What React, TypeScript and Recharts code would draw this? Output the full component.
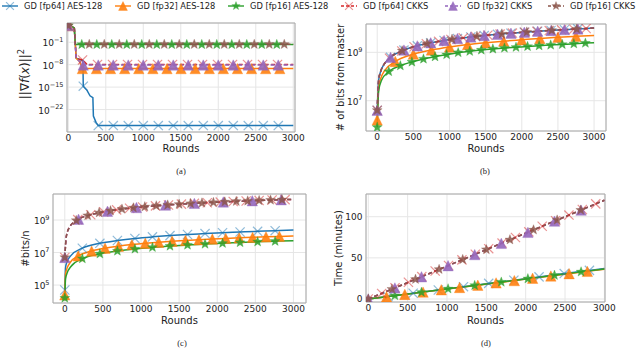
import React from 'react';
import { LineChart, Line, XAxis, YAxis, CartesianGrid, ReferenceArea } from 'recharts';

type Pt = [number, number];
type Shape = 'x' | 'tri' | 'star';

const FONT = '"DejaVu Sans", sans-serif';
const COLORS = { blue: '#1f77b4', orange: '#ff7f0e', green: '#2ca02c', red: '#d62728', purple: '#9467bd', brown: '#8c564b' };

const legendLabels = ['GD [fp64] AES-128', 'GD [fp32] AES-128', 'GD [fp16] AES-128', 'GD [fp64] CKKS', 'GD [fp32] CKKS', 'GD [fp16] CKKS'];
const roundTicks = [0, 500, 1000, 1500, 2000, 2500, 3000];

// ---------- Panel (a): ||grad f(x)||^2 ----------
const aBluePre: Pt[] = [[40, 1e4], [80, 3e3], [95, 1e-2], [105, 1e-6], [150, 4e-7], [195, 2e-7], [250, 1e-16], [290, 2e-18], [328, 5e-19], [335, 1e-24], [370, 1e-26], [3000, 1e-27]];
const aBluePts: Pt[] = [[0, 1.5e4], [200, 2e-15], [400, 1e-27], [600, 1e-27], [800, 1e-27], [1000, 1e-27], [1200, 1e-27], [1400, 1e-27], [1600, 1e-27], [1800, 1e-27], [2000, 1e-27], [2200, 1e-27], [2400, 1e-27], [2600, 1e-27], [2800, 1e-27]];
const aOrangePre: Pt[] = [[40, 1e4], [80, 3e3], [95, 1e-2], [105, 1e-6], [150, 1e-7], [3000, 6e-10]];
const aOrangePts: Pt[] = [[0, 1.5e4], [188, 6e-10], [376, 6e-10], [564, 6e-10], [752, 6e-10], [940, 6e-10], [1128, 6e-10], [1316, 6e-10], [1504, 6e-10], [1692, 6e-10], [1880, 6e-10], [2068, 6e-10], [2256, 6e-10], [2444, 6e-10], [2632, 6e-10], [2820, 6e-10]];
const aGreenPre: Pt[] = [[40, 1e4], [80, 3e3], [95, 2e-2], [3000, 2e-2]];
const aGreenPts: Pt[] = [[0, 1.5e4], [180, 2e-2], [380, 2e-2], [580, 2e-2], [780, 2e-2], [980, 2e-2], [1180, 2e-2], [1380, 2e-2], [1580, 2e-2], [1780, 2e-2], [1980, 2e-2], [2180, 2e-2], [2380, 2e-2], [2580, 2e-2], [2780, 2e-2]];
const aRedPre: Pt[] = [[40, 1e4], [80, 3e3], [95, 1e-2], [105, 1e-6], [150, 5e-7], [250, 1.2e-8], [3000, 1.2e-8]];
const aRedPts: Pt[] = [[0, 1.5e4], [190, 3e-7], [390, 1.2e-8], [590, 1.2e-8], [790, 1.2e-8], [990, 1.2e-8], [1190, 1.2e-8], [1390, 1.2e-8], [1590, 1.2e-8], [1790, 1.2e-8], [1990, 1.2e-8], [2190, 1.2e-8], [2390, 1.2e-8], [2590, 1.2e-8], [2790, 1.2e-8]];
const aPurplePre: Pt[] = [[40, 1e4], [80, 3e3], [95, 1e-2], [105, 1e-6], [150, 1e-7], [3000, 8e-9]];
const aPurplePts: Pt[] = [[0, 1.5e4], [200, 8e-9], [400, 8e-9], [600, 8e-9], [800, 8e-9], [1000, 8e-9], [1200, 8e-9], [1400, 8e-9], [1600, 8e-9], [1800, 8e-9], [2000, 8e-9], [2200, 8e-9], [2400, 8e-9], [2600, 8e-9], [2800, 8e-9]];
const aBrownPre: Pt[] = [[40, 1e4], [80, 3e3], [95, 2.2e-2], [3000, 2.2e-2]];
const aBrownPts: Pt[] = [[0, 1.5e4], [280, 2.2e-2], [480, 2.2e-2], [680, 2.2e-2], [880, 2.2e-2], [1080, 2.2e-2], [1280, 2.2e-2], [1480, 2.2e-2], [1680, 2.2e-2], [1880, 2.2e-2], [2080, 2.2e-2], [2280, 2.2e-2], [2480, 2.2e-2], [2680, 2.2e-2], [2880, 2.2e-2]];
const aYTicks = [1e-22, 1e-15, 1e-8, 1e-1];

// ---------- Panel (b): # of bits from master ----------
const bTopPre: Pt[] = [[20, 7e7], [50, 1.7e8], [90, 3e8], [3000, 1e10]];
const bTopPts: Pt[] = [[0, 4e6], [185, 6.2e8], [370, 1.24e9], [555, 1.85e9], [740, 2.47e9], [925, 3.1e9], [1110, 3.7e9], [1295, 4.3e9], [1480, 4.93e9], [1665, 5.55e9], [1850, 6.17e9], [2035, 6.78e9], [2220, 7.4e9], [2405, 8e9], [2590, 8.63e9], [2775, 9.25e9]];
const bOrangePre: Pt[] = [[20, 3.5e7], [50, 8.5e7], [100, 1.7e8], [3000, 5e9]];
const bOrangePts: Pt[] = [[0, 1.6e6], [250, 4.2e8], [500, 8.4e8], [750, 1.25e9], [1000, 1.67e9], [1250, 2.1e9], [1500, 2.5e9], [1750, 2.9e9], [2000, 3.3e9], [2250, 3.75e9], [2500, 4.2e9], [2750, 4.6e9]];
const bGreenPre: Pt[] = [[20, 2.5e7], [60, 7e7], [3000, 2.5e9]];
const bGreenPts: Pt[] = [[0, 8e5], [160, 1.6e8], [320, 2.8e8], [480, 4e8], [640, 5.3e8], [800, 6.6e8], [960, 8e8], [1120, 9.7e8], [1280, 1.1e9], [1440, 1.25e9], [1600, 1.38e9], [1760, 1.5e9], [1920, 1.62e9], [2080, 1.75e9], [2240, 1.88e9], [2400, 2e9], [2560, 2.12e9], [2720, 2.25e9], [2880, 2.4e9]];
const bRedPre: Pt[] = [[20, 7e7], [50, 1.7e8], [90, 3e8], [3000, 1e10]];
const bRedPts: Pt[] = [[0, 4e6], [170, 5.7e8], [340, 1.14e9], [510, 1.7e9], [680, 2.27e9], [850, 2.83e9], [1020, 3.4e9], [1190, 3.97e9], [1360, 4.53e9], [1530, 5.1e9], [1700, 5.67e9], [1870, 6.23e9], [2040, 6.8e9], [2210, 7.36e9], [2380, 7.93e9], [2550, 8.5e9], [2720, 9.06e9], [2890, 9.63e9]];
const bBrownPre: Pt[] = [[20, 7e7], [50, 1.7e8], [90, 3e8], [170, 5.7e8], [3000, 1e10]];
const bBrownPts: Pt[] = [[0, 4e6], [345, 1.15e9], [690, 2.3e9], [1035, 3.45e9], [1380, 4.6e9], [1725, 5.75e9], [2070, 6.9e9], [2415, 8.05e9], [2760, 9.2e9]];
const bYTicks = [1e7, 1e9];

// ---------- Panel (c): #bits/n ----------
const cBluePre: Pt[] = [[10, 1.2e6], [30, 2.8e6], [80, 6.5e6], [3000, 2.4e8]];
const cBluePts: Pt[] = [[0, 5e4], [230, 1.85e7], [460, 3.7e7], [690, 5.5e7], [920, 7.4e7], [1150, 9.2e7], [1380, 1.1e8], [1610, 1.29e8], [1840, 1.47e8], [2070, 1.66e8], [2300, 1.84e8], [2530, 2.02e8], [2760, 2.21e8]];
const cOrangePre: Pt[] = [[10, 5e5], [30, 1.1e6], [80, 2.8e6], [3000, 1.05e8]];
const cOrangePts: Pt[] = [[0, 2.5e4], [176, 6.2e6], [352, 1.23e7], [528, 1.85e7], [704, 2.46e7], [880, 3.08e7], [1056, 3.7e7], [1232, 4.3e7], [1408, 4.93e7], [1584, 5.5e7], [1760, 6.16e7], [1936, 6.8e7], [2112, 7.4e7], [2288, 8e7], [2464, 8.6e7], [2640, 9.24e7], [2816, 9.86e7]];
const cGreenPre: Pt[] = [[10, 2.5e5], [30, 5.5e5], [80, 1.4e6], [3000, 5.4e7]];
const cGreenPts: Pt[] = [[0, 1.6e4], [230, 4.2e6], [460, 8.3e6], [690, 1.24e7], [920, 1.66e7], [1150, 2.07e7], [1380, 2.5e7], [1610, 2.9e7], [1840, 3.3e7], [2070, 3.73e7], [2300, 4.14e7], [2530, 4.55e7], [2760, 4.97e7]];
const cRedPre: Pt[] = [[20, 1e8], [60, 3.5e8], [3000, 1.86e10]];
const cRedPts: Pt[] = [[0, 5e6], [170, 1.06e9], [340, 2.1e9], [510, 3.17e9], [680, 4.2e9], [850, 5.28e9], [1020, 6.33e9], [1190, 7.4e9], [1360, 8.44e9], [1530, 9.5e9], [1700, 1.055e10], [1870, 1.16e10], [2040, 1.265e10], [2210, 1.37e10], [2380, 1.48e10], [2550, 1.58e10], [2720, 1.69e10], [2890, 1.79e10]];
const cPurplePre: Pt[] = [[20, 1e8], [60, 3.5e8], [370, 2.3e9], [3000, 1.86e10]];
const cPurplePts: Pt[] = [[0, 5e6], [180, 1.12e9], [560, 3.48e9], [940, 5.83e9], [1320, 8.19e9], [1700, 1.055e10], [2080, 1.29e10], [2460, 1.53e10], [2840, 1.76e10]];
const cBrownPre: Pt[] = [[20, 1e8], [60, 3.5e8], [3000, 1.86e10]];
const cBrownPts: Pt[] = [[0, 5e6], [150, 9.4e8], [300, 1.87e9], [450, 2.8e9], [600, 3.7e9], [750, 4.66e9], [900, 5.6e9], [1050, 6.5e9], [1200, 7.45e9], [1350, 8.4e9], [1500, 9.3e9], [1650, 1.02e10], [1800, 1.12e10], [1950, 1.21e10], [2100, 1.3e10], [2250, 1.4e10], [2400, 1.49e10], [2550, 1.58e10], [2700, 1.68e10], [2850, 1.77e10]];
const cYTicks = [1e5, 1e7, 1e9];

// ---------- Panel (d): Time (minutes) ----------
const dBluePre: Pt[] = [[0, 0], [3000, 37.2]];
const dBluePts: Pt[] = [[250, 3.1], [570, 7.1], [890, 11], [1210, 15], [1530, 19], [1850, 22.9], [2170, 26.9], [2490, 30.9], [2810, 34.8]];
const dOrangePre: Pt[] = [[0, 0], [3000, 36.2]];
const dOrangePts: Pt[] = [[232, 2.8], [464, 5.6], [696, 8.4], [928, 11.2], [1160, 14], [1392, 16.8], [1624, 19.6], [1856, 22.4], [2088, 25.2], [2320, 28], [2552, 30.8], [2784, 33.6]];
const dGreenPre: Pt[] = [[0, 0], [3000, 36.6]];
const dGreenPts: Pt[] = [[338, 4.1], [676, 8.2], [1014, 12.4], [1352, 16.5], [1690, 20.6], [2028, 24.7], [2366, 28.9], [2704, 33]];
const dRedPre: Pt[] = [[3000, 120]];
const dRedPts: Pt[] = [[0, 0], [170, 6.8], [340, 13.6], [510, 20.4], [680, 27.2], [850, 34], [1020, 40.8], [1190, 47.6], [1360, 54.4], [1530, 61.2], [1700, 68], [1870, 74.8], [2040, 81.6], [2210, 88.4], [2380, 95.2], [2550, 102], [2720, 108.8], [2890, 115.6]];
const dPurplePre: Pt[] = [[3000, 120]];
const dPurplePts: Pt[] = [[0, 0], [338, 13.5], [676, 27], [1014, 40.5], [1352, 54], [1690, 67.6], [2028, 81], [2366, 94.6], [2704, 108]];
const dBrownPre: Pt[] = [[3000, 120]];
const dBrownPts: Pt[] = [[0, 0], [300, 12], [600, 24], [900, 36], [1200, 48], [1500, 60], [1800, 72], [2100, 84], [2400, 96], [2700, 108]];
const dYTicks = [0, 50, 100];

// ---------- helpers ----------
type Row = { x: number; y: number; m: boolean };
const build = (pre: Pt[], pts: Pt[]): Row[] =>
  [...pre.map(([x, y]) => ({ x, y, m: false })), ...pts.map(([x, y]) => ({ x, y, m: true }))].sort((a, b) => a.x - b.x);

const STYLE: { color: string; shape: Shape; dashed: boolean }[] = [
  { color: COLORS.blue, shape: 'x', dashed: false },
  { color: COLORS.orange, shape: 'tri', dashed: false },
  { color: COLORS.green, shape: 'star', dashed: false },
  { color: COLORS.red, shape: 'x', dashed: true },
  { color: COLORS.purple, shape: 'tri', dashed: true },
  { color: COLORS.brown, shape: 'star', dashed: true },
];

function Marker({ shape, color, x, y, s = 1 }: { shape: Shape; color: string; x: number; y: number; s?: number }) {
  if (shape === 'x') {
    const r = 4.6 * s;
    return (
      <g stroke={color} strokeWidth={1.2} strokeOpacity={0.5}>
        <line x1={x - r} y1={y - r} x2={x + r} y2={y + r} />
        <line x1={x - r} y1={y + r} x2={x + r} y2={y - r} />
      </g>
    );
  }
  if (shape === 'tri') {
    const h = 5.2 * s;
    return (
      <polygon
        points={`${x},${y - h} ${x + h},${y + h} ${x - h},${y + h}`}
        fill={color}
        fillOpacity={0.9}
        stroke={color}
        strokeOpacity={0.35}
        strokeWidth={1}
      />
    );
  }
  const R = 5.2 * s;
  const r = 2.2 * s;
  const p: string[] = [];
  for (let i = 0; i < 10; i++) {
    const a = -Math.PI / 2 + (i * Math.PI) / 5;
    const rr = i % 2 ? r : R;
    p.push(`${(x + rr * Math.cos(a)).toFixed(2)},${(y + rr * Math.sin(a)).toFixed(2)}`);
  }
  return <polygon points={p.join(' ')} fill={color} fillOpacity={0.85} stroke={color} strokeOpacity={0.35} strokeWidth={0.8} />;
}

const makeDot = (shape: Shape, color: string) => (props: any) => {
  const { cx, cy, payload, index } = props;
  if (!payload || !payload.m || cx == null || cy == null || isNaN(cx) || isNaN(cy)) return <g key={`d${index}`} />;
  return (
    <g key={`d${index}`}>
      <Marker shape={shape} color={color} x={cx} y={cy} />
    </g>
  );
};

function XTick(props: any) {
  const { x, y, payload } = props;
  return (
    <text x={x} y={y} dy="0.71em" textAnchor="middle" fontSize={9} fontFamily={FONT} fill="#222">
      {payload.value}
    </text>
  );
}

function LogTick(props: any) {
  const { x, y, payload } = props;
  const e = Math.round(Math.log10(payload.value));
  const s = e < 0 ? '\u2212' + Math.abs(e) : String(e);
  return (
    <text x={x} y={y + 4} textAnchor="end" fontSize={9} fontFamily={FONT} fill="#222">
      10<tspan dy={-4.5} fontSize={6.5}>{s}</tspan>
    </text>
  );
}

function LinTick(props: any) {
  const { x, y, payload } = props;
  return (
    <text x={x} y={y} dy="0.35em" textAnchor="end" fontSize={9} fontFamily={FONT} fill="#222">
      {payload.value}
    </text>
  );
}

type PanelProps = {
  left: number;
  top: number;
  width: number;
  height: number;
  margin: { top: number; right: number; bottom: number; left: number };
  yWidth: number;
  xHeight: number;
  xDomain: [number, number];
  yDomain: [number, number];
  yTicks: number[];
  log: boolean;
  curve: 'linear' | 'monotone';
  series: { pre: Pt[]; pts: Pt[] }[];
};

function Panel(p: PanelProps) {
  return (
    <div style={{ position: 'absolute', left: p.left, top: p.top }}>
      <LineChart width={p.width} height={p.height} margin={p.margin}>
        <CartesianGrid stroke="#e6e6e6" strokeWidth={1} />
        <XAxis
          dataKey="x"
          type="number"
          domain={p.xDomain}
          ticks={roundTicks}
          allowDataOverflow
          height={p.xHeight}
          tickSize={0}
          tickMargin={2.5}
          axisLine={false}
          tickLine={false}
          interval={0}
          tick={(t: any) => <XTick {...t} />}
        />
        <YAxis
          type="number"
          scale={p.log ? 'log' : 'linear'}
          domain={p.yDomain}
          ticks={p.yTicks}
          allowDataOverflow
          width={p.yWidth}
          tickSize={0}
          tickMargin={3.5}
          axisLine={false}
          tickLine={false}
          interval={0}
          tick={(t: any) => (p.log ? <LogTick {...t} /> : <LinTick {...t} />)}
        />
        {p.series.map((s, i) => (
          <Line
            key={legendLabels[i]}
            name={legendLabels[i]}
            data={build(s.pre, s.pts)}
            dataKey="y"
            type={p.curve}
            stroke={STYLE[i].color}
            strokeWidth={1.5}
            strokeDasharray={STYLE[i].dashed ? '4 2.5' : undefined}
            dot={makeDot(STYLE[i].shape, STYLE[i].color)}
            activeDot={false}
            isAnimationActive={false}
          />
        ))}
        <ReferenceArea
          x1={p.xDomain[0]}
          x2={p.xDomain[1]}
          y1={p.yDomain[0]}
          y2={p.yDomain[1]}
          fill="none"
          fillOpacity={0}
          stroke="#a8a8a8"
          strokeWidth={1}
          ifOverflow="visible"
        />
      </LineChart>
    </div>
  );
}

const legendCenters = [10, 123, 236, 349, 453, 556];

function Overlay() {
  const lab = { fontSize: 10, fontFamily: FONT, fill: '#222' } as const;
  const cap = { fontSize: 8.5, fontFamily: '"Liberation Serif", serif', fill: '#222' } as const;
  return (
    <svg width={640} height={352} style={{ position: 'absolute', left: 0, top: 0, pointerEvents: 'none' }}>
      {legendCenters.map((cx, i) => (
        <g key={legendLabels[i]}>
          <line x1={cx - 8} x2={cx + 8} y1={6} y2={6} stroke={STYLE[i].color} strokeWidth={1.4} strokeDasharray={STYLE[i].dashed ? '3 2' : undefined} />
          <Marker shape={STYLE[i].shape} color={STYLE[i].color} x={cx} y={6} s={0.85} />
          <text x={cx + 14} y={6} dy="0.35em" fontSize={8.3} fontFamily={FONT} fill="#222">
            {legendLabels[i]}
          </text>
        </g>
      ))}
      {/* axis labels */}
      <text x={181} y={148.3} dy="0.35em" textAnchor="middle" {...lab}>Rounds</text>
      <text x={486} y={148.3} dy="0.35em" textAnchor="middle" {...lab}>Rounds</text>
      <text x={179.5} y={320} dy="0.35em" textAnchor="middle" {...lab}>Rounds</text>
      <text x={485.5} y={320} dy="0.35em" textAnchor="middle" {...lab}>Rounds</text>
      <text x={25} y={74} dy="0.35em" textAnchor="middle" transform="rotate(-90 25 74)" fontSize={12} fontFamily={FONT} fill="#222">
        ||∇<tspan fontStyle="italic">f</tspan>(<tspan fontStyle="italic">x</tspan>)||<tspan dy={-5} fontSize={8.5}>2</tspan>
      </text>
      <text x={340.7} y={77.5} dy="0.35em" textAnchor="middle" transform="rotate(-90 340.7 77.5)" {...lab}># of bits from master</text>
      <text x={25} y={248.5} dy="0.35em" textAnchor="middle" transform="rotate(-90 25 248.5)" {...lab}>#bits/n</text>
      <text x={338.3} y={248} dy="0.35em" textAnchor="middle" transform="rotate(-90 338.3 248)" {...lab}>Time (minutes)</text>
      {/* captions */}
      <text x={181} y={171} dy="0.35em" textAnchor="middle" {...cap}>(a)</text>
      <text x={485} y={171} dy="0.35em" textAnchor="middle" {...cap}>(b)</text>
      <text x={182} y={343.3} dy="0.35em" textAnchor="middle" {...cap}>(c)</text>
      <text x={486} y={343.3} dy="0.35em" textAnchor="middle" {...cap}>(d)</text>
    </svg>
  );
}

export default function App() {
  return (
    <div style={{ position: 'absolute', left: 0, top: 0, width: 640, height: 352, background: '#fff', overflow: 'hidden' }}>
      <Panel
        left={0}
        top={18}
        width={310}
        height={140}
        margin={{ top: 5, right: 15, bottom: 0, left: 0 }}
        yWidth={67}
        xHeight={26}
        xDomain={[-17, 3023]}
        yDomain={[1e-29, 1e5]}
        yTicks={aYTicks}
        log
        curve="linear"
        series={[
          { pre: aBluePre, pts: aBluePts },
          { pre: aOrangePre, pts: aOrangePts },
          { pre: aGreenPre, pts: aGreenPts },
          { pre: aRedPre, pts: aRedPts },
          { pre: aPurplePre, pts: aPurplePts },
          { pre: aBrownPre, pts: aBrownPts },
        ]}
      />
      <Panel
        left={310}
        top={18}
        width={310}
        height={140}
        margin={{ top: 6, right: 14, bottom: 0, left: 0 }}
        yWidth={56}
        xHeight={27}
        xDomain={[-155, 3165]}
        yDomain={[5.6e5, 1.48e10]}
        yTicks={bYTicks}
        log
        curve="monotone"
        series={[
          { pre: bTopPre, pts: bTopPts },
          { pre: bOrangePre, pts: bOrangePts },
          { pre: bGreenPre, pts: bGreenPts },
          { pre: bRedPre, pts: bRedPts },
          { pre: bTopPre, pts: bTopPts },
          { pre: bBrownPre, pts: bBrownPts },
        ]}
      />
      <Panel
        left={0}
        top={188}
        width={316}
        height={140}
        margin={{ top: 6, right: 10, bottom: 0, left: 0 }}
        yWidth={53}
        xHeight={25}
        xDomain={[-155, 3165]}
        yDomain={[7.9e3, 3.98e10]}
        yTicks={cYTicks}
        log
        curve="monotone"
        series={[
          { pre: cBluePre, pts: cBluePts },
          { pre: cOrangePre, pts: cOrangePts },
          { pre: cGreenPre, pts: cGreenPts },
          { pre: cRedPre, pts: cRedPts },
          { pre: cPurplePre, pts: cPurplePts },
          { pre: cBrownPre, pts: cBrownPts },
        ]}
      />
      <Panel
        left={310}
        top={188}
        width={312}
        height={140}
        margin={{ top: 6, right: 17, bottom: 0, left: 0 }}
        yWidth={56}
        xHeight={26}
        xDomain={[-29, 3008]}
        yDomain={[-3.6, 127.6]}
        yTicks={dYTicks}
        log={false}
        curve="linear"
        series={[
          { pre: dBluePre, pts: dBluePts },
          { pre: dOrangePre, pts: dOrangePts },
          { pre: dGreenPre, pts: dGreenPts },
          { pre: dRedPre, pts: dRedPts },
          { pre: dPurplePre, pts: dPurplePts },
          { pre: dBrownPre, pts: dBrownPts },
        ]}
      />
      <Overlay />
    </div>
  );
}
